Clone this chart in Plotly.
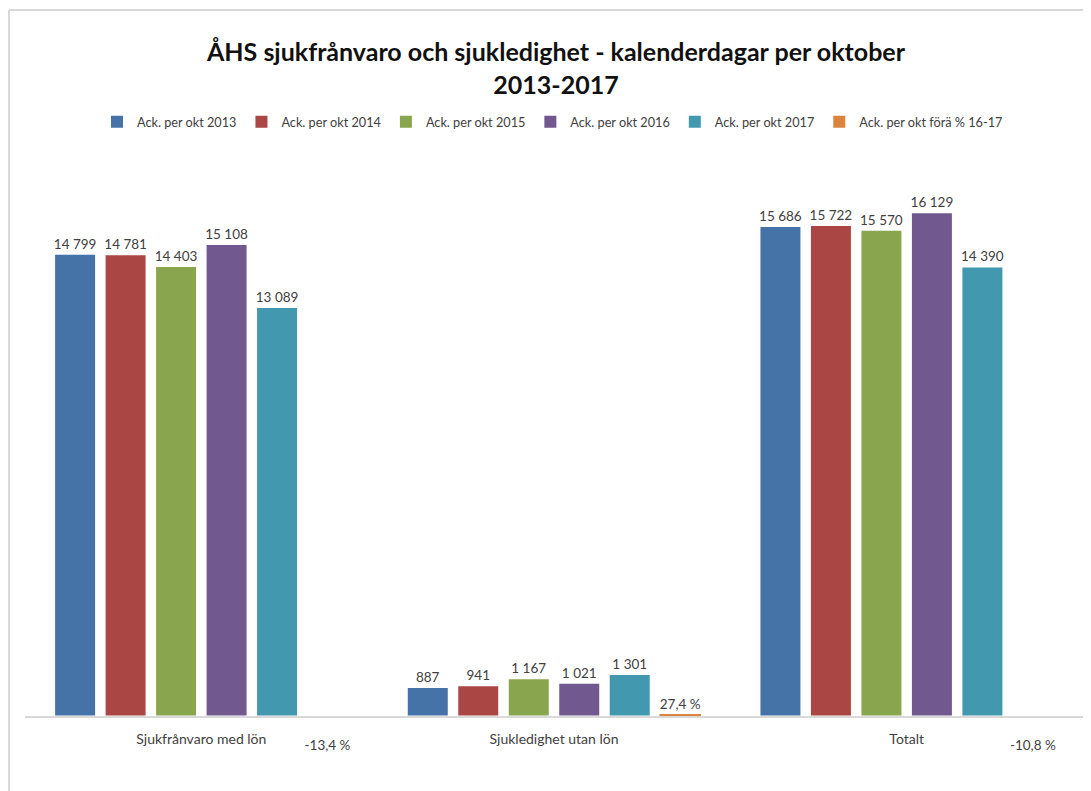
import plotly.graph_objects as go

categories = ["Sjukfrånvaro med lön", "Sjukledighet utan lön", "Totalt"]
series_names = [
    "Ack. per okt 2013",
    "Ack. per okt 2014",
    "Ack. per okt 2015",
    "Ack. per okt 2016",
    "Ack. per okt 2017",
    "Ack. per okt förä % 16-17",
]
v2013 = [14799, 887, 15686]
v2014 = [14781, 941, 15722]
v2015 = [14403, 1167, 15570]
v2016 = [15108, 1021, 16129]
v2017 = [13089, 1301, 14390]
change_pct = [-13.4, 27.4, -10.8]

colors = ["#4572A7", "#AA4643", "#89A54E", "#71588F", "#4198AF", "#DB843D"]

# page is rendered with an 8px body margin, so the figure is 8px smaller
W, H = 1083, 783
ML, MR, MT, MB = 17, 8, 147, 75
PW, PH = W - ML - MR, H - MT - MB

FONT = "Lato"
TXT = "#404040"


def fmt_int(v):
    return f"{v:,}".replace(",", " ")


def fmt_pct(v):
    return f"{v:.1f}".replace(".", ",") + " %"


fig = go.Figure()
for name, vals, col in zip(series_names[:5], [v2013, v2014, v2015, v2016, v2017], colors[:5]):
    fig.add_trace(go.Bar(
        name=name, x=categories, y=vals, marker_color=col,
        marker_line_width=0,
        text=[fmt_int(v) for v in vals], textposition="outside",
        textfont=dict(family=FONT, size=13.5, color=TXT),
        cliponaxis=False, constraintext="none",
    ))

fig.add_trace(go.Bar(
    name=series_names[5], x=categories, y=change_pct,
    marker=dict(
        color=colors[5],
        opacity=[0 if v < 0 else 1 for v in change_pct],
        line=dict(color=colors[5], width=[0 if v < 0 else 1.5 for v in change_pct]),
    ),
    text=[("\u00a0<br>" if v < 0 else "") + fmt_pct(v) for v in change_pct],
    textposition="outside",
    textfont=dict(family=FONT, size=13.5, color=TXT),
    cliponaxis=False, constraintext="none",
))


def px_x(p):
    return (p - ML) / PW


def px_y(p):
    return (H - MB - p) / PH


fig.update_layout(
    width=W, height=H,
    margin=dict(l=ML, r=MR, t=MT, b=MB),
    paper_bgcolor="white", plot_bgcolor="white",
    barmode="group", bargap=0.141, bargroupgap=0.208,
    title=dict(
        text="ÅHS sjukfrånvaro och sjukledighet - kalenderdagar per oktober<br>2013-2017",
        x=548 / W, xanchor="center", y=1 - 53 / H, yanchor="middle",
        font=dict(family=FONT, size=25, color="#111111", weight="bold"),
    ),
    font=dict(family=FONT, size=12, color=TXT),
    showlegend=True,
    legend=dict(
        orientation="h", x=px_x(89), xanchor="left", y=px_y(114), yanchor="middle",
        font=dict(family=FONT, size=12.7, color=TXT),
        itemwidth=30, bgcolor="rgba(0,0,0,0)",
    ),
    xaxis=dict(
        showline=True, linecolor="#d9d9d9", linewidth=2, layer="above traces",
        ticks="", showgrid=False, ticklabelstandoff=9,
        tickfont=dict(family=FONT, size=14, color=TXT),
    ),
    yaxis=dict(
        range=[-14, 18000], visible=False, showgrid=False, zeroline=False,
    ),
    shapes=[
        dict(type="line", xref="paper", yref="paper",
             x0=px_x(1), x1=px_x(W + 5), y0=px_y(2), y1=px_y(2),
             line=dict(color="#d9d9d9", width=2)),
        dict(type="line", xref="paper", yref="paper",
             x0=px_x(1), x1=px_x(1), y0=px_y(2), y1=px_y(H + 5),
             line=dict(color="#d9d9d9", width=2)),
    ],
)

fig.write_html("out.html")
